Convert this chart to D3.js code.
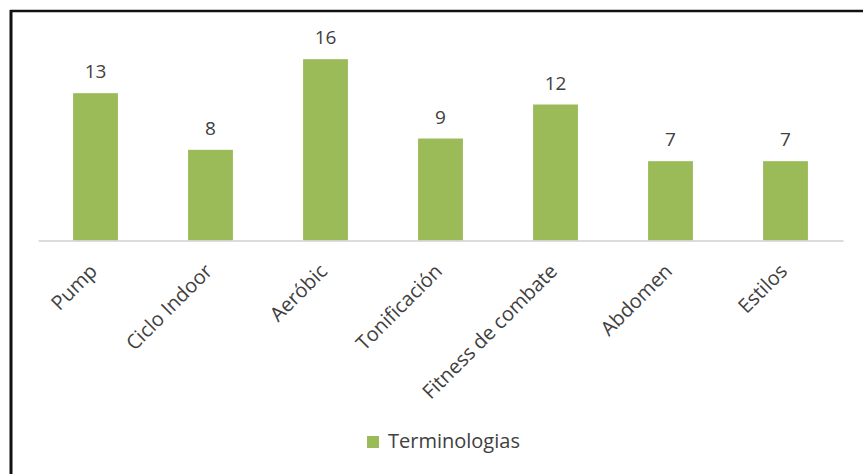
<!DOCTYPE html>
<html>
<head>
<meta charset="utf-8">
<script src="https://cdn.jsdelivr.net/npm/d3@7"></script>
<style>
  html, body { margin: 0; padding: 0; background: #fff; }
  svg { display: block; }
</style>
</head>
<body>
<svg id="chart" width="863" height="474"></svg>
<script>
// Activity categories and number of terminologies found for each
const categories = ["Pump", "Ciclo Indoor", "Aeróbic", "Tonificación", "Fitness de combate", "Abdomen", "Estilos"];
const values = [13, 8, 16, 9, 12, 7, 7];
const seriesName = "Terminologias";

const W = 863, H = 474;
const barColor = "#9bbb59";
const textColor = "#404040";
const font = "'Open Sans', Lato, sans-serif";

const svg = d3.select("#chart");
svg.append("rect").attr("width", W).attr("height", H).attr("fill", "#fff");

// frame: top and left edges
svg.append("line").attr("x1", 10).attr("x2", W).attr("y1", 11).attr("y2", 11)
  .attr("stroke", "#111").attr("stroke-width", 2.5);
svg.append("line").attr("x1", 11).attr("x2", 11).attr("y1", 10).attr("y2", H)
  .attr("stroke", "#111").attr("stroke-width", 3);

const x = d3.scaleBand().domain(categories).range([38, 843])
  .paddingInner(0.61).paddingOuter(0.305);
const y = d3.scaleLinear().domain([0, 18]).range([240.5, 36.5]);

// bars
svg.append("g").selectAll("rect").data(values).join("rect")
  .attr("x", (d, i) => x(categories[i]))
  .attr("width", x.bandwidth())
  .attr("y", d => y(d))
  .attr("height", d => y(0) - y(d))
  .attr("fill", barColor);

// value labels
svg.append("g").selectAll("text").data(values).join("text")
  .attr("x", (d, i) => x(categories[i]) + x.bandwidth() / 2)
  .attr("y", d => y(d) - 15)
  .attr("text-anchor", "middle")
  .attr("font-family", font)
  .attr("font-size", 19)
  .attr("fill", textColor)
  .text(d => d);

// category axis
const axis = svg.append("g").attr("transform", `translate(0,${y(0)})`)
  .call(d3.axisBottom(x).tickSize(0).tickSizeOuter(0));
axis.select(".domain").attr("stroke", "#d0d0d0").attr("stroke-width", 1.5);
axis.selectAll(".tick text")
  .attr("font-family", font)
  .attr("font-size", 20)
  .attr("fill", textColor)
  .attr("text-anchor", "end")
  .attr("dy", null)
  .attr("y", 0)
  .attr("transform", "translate(3,32) rotate(-45)");

// legend
const legend = svg.append("g").attr("transform", "translate(367,436)");
legend.append("rect").attr("width", 12).attr("height", 12).attr("fill", barColor);
legend.append("text").attr("x", 21).attr("y", 12)
  .attr("font-family", font).attr("font-size", 20).attr("fill", textColor)
  .text(seriesName);
</script>
</body>
</html>
